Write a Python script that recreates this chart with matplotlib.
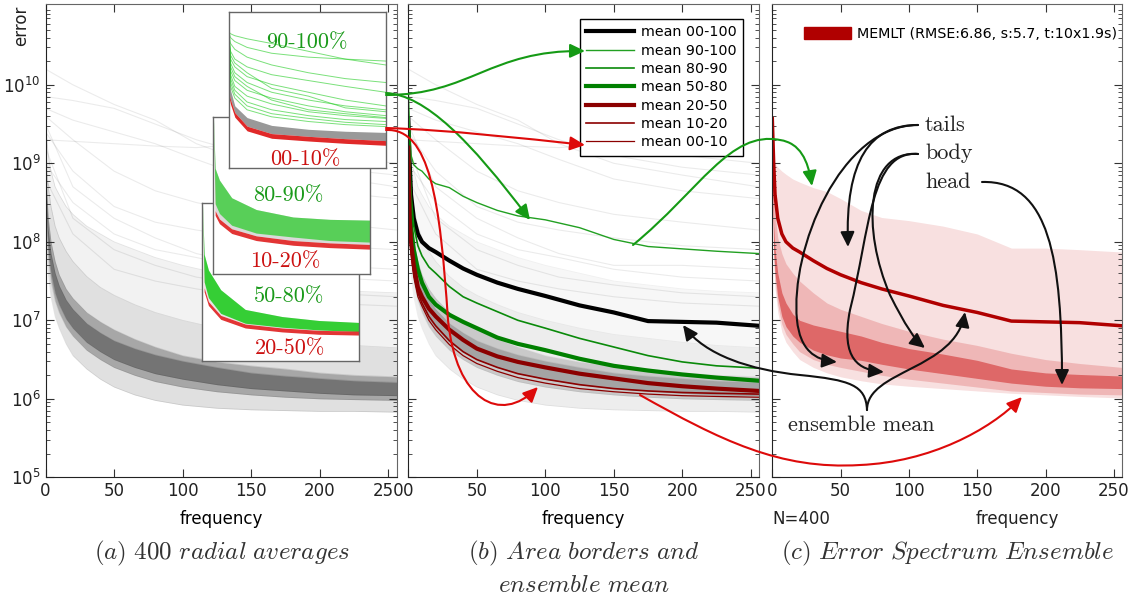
import numpy as np
import matplotlib.pyplot as plt
from matplotlib.path import Path
from matplotlib.patches import FancyArrowPatch, Patch

W, H = 1135, 603

# ---- data (log10 of error) ----
freq = [0, 1, 2, 4, 7, 10, 15, 20, 30, 40, 50, 65, 80, 100, 125, 150, 175, 200, 225, 256]

# quantiles of the 400 radial averages
q02 = [8.9, 7.9, 7.6, 7.3, 7.05, 6.9, 6.7, 6.55, 6.38, 6.25, 6.15, 6.05, 5.98, 5.92, 5.88, 5.86, 5.85, 5.84, 5.84, 5.83]
q20 = [9.05, 8.1, 7.8, 7.5, 7.25, 7.1, 6.92, 6.8, 6.62, 6.5, 6.4, 6.3, 6.22, 6.15, 6.09, 6.05, 6.02, 6.0, 5.99, 5.98]
q35 = [9.12, 8.2, 7.9, 7.6, 7.35, 7.2, 7.02, 6.9, 6.72, 6.6, 6.5, 6.4, 6.32, 6.25, 6.18, 6.13, 6.1, 6.07, 6.05, 6.04]
q65 = [9.28, 8.45, 8.15, 7.85, 7.6, 7.44, 7.26, 7.14, 6.96, 6.84, 6.74, 6.64, 6.56, 6.48, 6.4, 6.33, 6.29, 6.26, 6.23, 6.21]
q80 = [9.35, 8.6, 8.3, 8.0, 7.75, 7.58, 7.4, 7.28, 7.1, 6.98, 6.88, 6.76, 6.66, 6.55, 6.47, 6.42, 6.38, 6.33, 6.3, 6.28]
q95 = [9.5, 8.9, 8.7, 8.45, 8.2, 8.05, 7.88, 7.75, 7.56, 7.42, 7.32, 7.2, 7.1, 7.0, 6.9, 6.82, 6.77, 6.72, 6.68, 6.65]
q99 = [9.7, 9.3, 9.1, 8.9, 8.7, 8.6, 8.45, 8.35, 8.2, 8.1, 8.0, 7.9, 7.8, 7.7, 7.6, 7.5, 7.45, 7.4, 7.37, 7.35]

out_freq = [0, 20, 50, 80, 110, 150, 200, 256]
outliers = [
    [10.2, 10.0, 9.75, 9.55, 9.25, 9.0, 8.85, 8.7],
    [9.85, 9.8, 9.7, 9.5, 9.3, 9.1, 8.95, 8.85],
    [9.3, 9.28, 9.25, 9.22, 9.2, 9.25, 9.1, 9.0],
    [9.6, 9.3, 8.9, 8.65, 8.5, 8.35, 8.25, 8.15],
    [9.4, 8.9, 8.45, 8.25, 8.15, 8.05, 7.95, 7.9],
    [9.0, 8.5, 8.1, 7.9, 7.8, 7.65, 7.55, 7.5],
    [8.8, 8.1, 7.65, 7.5, 7.4, 7.3, 7.22, 7.18],
    [9.7, 9.55, 9.4, 9.25, 9.05, 8.8, 8.65, 8.55],
    [9.5, 8.7, 8.3, 8.05, 7.85, 7.7, 7.7, 7.65],
    [9.2, 8.3, 7.9, 7.7, 7.55, 7.45, 7.35, 7.3],
]

# area means
mean_all = [9.57, 9.0, 8.6, 8.3, 8.1, 8.0, 7.92, 7.87, 7.76, 7.66, 7.58, 7.48, 7.4, 7.31, 7.19, 7.1, 6.99, 6.98, 6.97, 6.93]
mean_90_100 = [9.95, 9.4, 9.1, 8.98, 8.93, 8.9, 8.8, 8.74, 8.69, 8.58, 8.5, 8.4, 8.33, 8.28, 8.18, 8.03, 7.94, 7.91, 7.88, 7.85]
mean_80_90 = [9.3, 8.9, 8.6, 8.2, 7.95, 7.82, 7.68, 7.6, 7.43, 7.3, 7.22, 7.11, 7.0, 6.9, 6.77, 6.66, 6.55, 6.47, 6.42, 6.39]
mean_50_80 = [9.4, 8.6, 8.2, 7.9, 7.65, 7.48, 7.3, 7.2, 7.07, 6.98, 6.9, 6.78, 6.7, 6.62, 6.51, 6.42, 6.36, 6.31, 6.27, 6.23]
mean_20_50 = [9.2, 8.3, 8.0, 7.7, 7.42, 7.3, 7.15, 7.05, 6.88, 6.75, 6.64, 6.54, 6.47, 6.4, 6.32, 6.26, 6.2, 6.16, 6.13, 6.1]
mean_10_20 = [9.1, 8.2, 7.9, 7.6, 7.35, 7.22, 7.05, 6.93, 6.74, 6.6, 6.5, 6.4, 6.32, 6.25, 6.18, 6.13, 6.1, 6.08, 6.07, 6.06]
mean_00_10 = [9.0, 8.1, 7.85, 7.55, 7.3, 7.18, 7.0, 6.88, 6.69, 6.55, 6.45, 6.35, 6.27, 6.2, 6.13, 6.09, 6.06, 6.04, 6.03, 6.02]

# ensemble bands (panel c)
tail_hi = [9.05, 9.02, 9.0, 8.95, 8.9, 8.86, 8.8, 8.76, 8.69, 8.64, 8.55, 8.4, 8.31, 8.27, 8.2, 8.1, 7.92, 7.92, 7.9, 7.87]
tail_lo = [8.6, 7.7, 7.4, 7.1, 6.85, 6.72, 6.6, 6.5, 6.4, 6.33, 6.28, 6.23, 6.19, 6.16, 6.13, 6.1, 6.07, 6.05, 6.03, 6.01]
body_hi = [9.05, 8.6, 8.35, 8.05, 7.85, 7.72, 7.6, 7.5, 7.35, 7.22, 7.14, 7.05, 6.96, 6.86, 6.76, 6.68, 6.58, 6.5, 6.45, 6.4]
body_lo = [8.7, 7.8, 7.5, 7.2, 6.95, 6.82, 6.7, 6.6, 6.5, 6.44, 6.4, 6.35, 6.3, 6.25, 6.2, 6.15, 6.1, 6.08, 6.06, 6.05]
head_hi = [9.0, 8.2, 7.9, 7.6, 7.35, 7.22, 7.08, 7.0, 6.94, 6.9, 6.86, 6.8, 6.72, 6.64, 6.57, 6.49, 6.38, 6.33, 6.31, 6.29]
head_lo = [8.8, 7.9, 7.6, 7.3, 7.05, 6.92, 6.8, 6.72, 6.62, 6.56, 6.52, 6.49, 6.44, 6.38, 6.32, 6.26, 6.2, 6.16, 6.14, 6.13]

# insets
in_freq = [0, 3, 10, 30, 70, 130, 190, 256]
in1_green = [
    [9.0, 8.95, 8.9, 8.82, 8.7, 8.5, 8.3, 8.15],
    [9.0, 8.85, 8.75, 8.6, 8.45, 8.35, 8.3, 8.25],
    [9.0, 8.7, 8.55, 8.35, 8.15, 7.95, 7.8, 7.7],
    [9.0, 8.5, 8.3, 8.1, 7.9, 7.75, 7.6, 7.45],
    [9.0, 8.3, 8.1, 7.85, 7.65, 7.45, 7.25, 7.1],
    [9.0, 8.2, 7.95, 7.7, 7.45, 7.25, 7.1, 7.0],
    [9.0, 8.0, 7.75, 7.5, 7.3, 7.1, 6.95, 6.85],
    [9.0, 7.9, 7.6, 7.35, 7.15, 6.95, 6.85, 6.78],
    [9.0, 7.8, 7.5, 7.2, 7.0, 6.85, 6.75, 6.7],
    [9.0, 7.7, 7.4, 7.1, 6.9, 6.78, 6.68, 6.62],
    [9.0, 7.6, 7.3, 7.0, 6.82, 6.7, 6.62, 6.57],
    [9.0, 8.1, 7.85, 7.6, 7.25, 7.0, 6.9, 6.8],
    [9.0, 8.4, 8.2, 7.95, 7.55, 7.35, 7.05, 6.95],
]
in1_gray_hi = [8.0, 7.5, 7.1, 6.8, 6.6, 6.5, 6.45, 6.42]
in1_red_hi = [7.45, 7.26, 6.93, 6.58, 6.39, 6.32, 6.26, 6.21]
in1_red_lo = [7.35, 7.14, 6.81, 6.46, 6.27, 6.2, 6.14, 6.09]

in2_green_hi = [9.6, 8.2, 7.9, 7.45, 7.15, 6.96, 6.9, 6.88]
in2_green_lo = [9.6, 7.3, 7.05, 6.75, 6.55, 6.45, 6.36, 6.32]
in2_red_hi = [9.6, 7.12, 6.91, 6.66, 6.48, 6.36, 6.3, 6.26]
in2_red_lo = [9.6, 7.0, 6.79, 6.54, 6.36, 6.24, 6.18, 6.14]

in3_green_hi = [9.6, 8.2, 7.8, 7.3, 6.8, 6.62, 6.52, 6.47]
in3_green_lo = [9.6, 7.5, 7.1, 6.7, 6.45, 6.35, 6.28, 6.24]
in3_red_hi = [9.6, 7.35, 7.0, 6.65, 6.43, 6.33, 6.27, 6.25]
in3_red_lo = [9.6, 7.25, 6.9, 6.55, 6.33, 6.23, 6.17, 6.15]

E = lambda v: 10.0 ** np.asarray(v)


def rect(x0, y0, x1, y1):
    return [x0 / W, 1 - y1 / H, (x1 - x0) / W, (y1 - y0) / H]


plt.rcParams['font.size'] = 12
fig = plt.figure(figsize=(W / 100, H / 100), dpi=100)

axa = fig.add_axes(rect(45.5, 4, 396.5, 477.3))
axb = fig.add_axes(rect(408.3, 4, 759, 477.3))
axc = fig.add_axes(rect(772.3, 4, 1122, 477.3))

for ax in (axa, axb, axc):
    ax.set_yscale('log')
    ax.set_ylim(1e5, 1.07e11)
    ax.set_yticks([1e5, 1e6, 1e7, 1e8, 1e9, 1e10])
    ax.set_xlim(0, 256)
    ax.set_xticks([0, 50, 100, 150, 200, 250])
    ax.tick_params(which='both', direction='in', top=True, right=True, colors='#333333', labelcolor='#222222')
    ax.tick_params(which='major', length=6)
    ax.tick_params(which='minor', length=3)
    for s in ax.spines.values():
        s.set_color('#666666')
    ax.spines['left'].set_color('#222222')
    ax.spines['bottom'].set_color('#222222')
axb.set_yticklabels([])
axc.set_yticklabels([])
fig.text(21 / W, 1 - 26 / H, 'error', rotation=90, ha='center', va='center', fontsize=12, color='#222222')
axa.set_xlabel('frequency', labelpad=7)
axb.set_xlabel('frequency', labelpad=7)


def bundle(ax, k):
    ax.fill_between(freq, E(q95), E(q99), color='k', alpha=0.05 * k, lw=0)
    ax.fill_between(freq, E(q02), E(q95), color='k', alpha=0.12 * k, lw=0)
    ax.fill_between(freq, E(q20), E(q80), color='k', alpha=0.25 * k, lw=0)
    ax.fill_between(freq, E(q35), E(q65), color='k', alpha=0.3 * k, lw=0)
    for q in (q02, q20, q35, q65, q80, q95, q99):
        ax.plot(freq, E(q), color='k', alpha=0.1 * k, lw=0.6)
    for o in outliers:
        ax.plot(out_freq, E(o), color='k', alpha=0.08, lw=0.8)


bundle(axa, 1.0)
bundle(axb, 0.6)

# panel b: area means
axb.plot(freq, E(mean_all), color='k', lw=3, label='mean 00-100')
axb.plot(freq, E(mean_90_100), color='#22a022', lw=1.0, label='mean 90-100')
axb.plot(freq, E(mean_80_90), color='#0a8a0a', lw=1.2, label='mean 80-90')
axb.plot(freq, E(mean_50_80), color='#008000', lw=3, label='mean 50-80')
axb.plot(freq, E(mean_20_50), color='#8b0000', lw=3, label='mean 20-50')
axb.plot(freq, E(mean_10_20), color='#8b0000', lw=1.2, label='mean 10-20')
axb.plot(freq, E(mean_00_10), color='#8b0000', lw=0.9, label='mean 00-10')
lg = axb.legend(loc='upper right', bbox_to_anchor=((743 - 408.3) / 350.7, (477.3 - 19) / 473.3),
                fontsize=10.3, handlelength=3.3, labelspacing=0.3, borderaxespad=0,
                fancybox=False, framealpha=1, edgecolor='k', borderpad=0.45, handletextpad=0.5)
lg.get_frame().set_linewidth(1.0)

# panel c: ensemble
red = '#c80000'
axc.fill_between(freq, E(tail_lo), E(tail_hi), color=red, alpha=0.12, lw=0)
axc.fill_between(freq, E(body_lo), E(body_hi), color=red, alpha=0.18, lw=0)
axc.fill_between(freq, E(head_lo), E(head_hi), color=red, alpha=0.43, lw=0)
axc.plot(freq, E(mean_all), color='#b00000', lw=2.5)
axc.legend(handles=[Patch(facecolor='#b00000', edgecolor='#b00000')],
           labels=['MEMLT (RMSE:6.86, s:5.7, t:10x1.9s)'], loc='upper left',
           bbox_to_anchor=((804 - 772.3) / 349.7, (477.3 - 27) / 473.3), frameon=False,
           fontsize=10.3, handlelength=3.3, handleheight=0.85, handletextpad=0.4, borderpad=0,
           borderaxespad=0)
fig.text(772 / W, 1 - 519 / H, 'N=400', ha='left', va='center', fontsize=12, color='#222222')
fig.text(1017 / W, 1 - 519 / H, 'frequency', ha='center', va='center', fontsize=12, color='#222222')

# insets in panel a
g_in = '#22cc22'
r_in = '#dd1111'


def inset(box, z):
    ax = fig.add_axes(rect(*box), zorder=z)
    ax.set_yscale('log')
    ax.set_ylim(10 ** 5.5, 10 ** 9.5)
    ax.set_xlim(0, 256)
    ax.set_xticks([])
    ax.set_yticks([])
    ax.minorticks_off()
    for s in ax.spines.values():
        s.set_color('#666666')
        s.set_linewidth(1.0)
    return ax


in3 = inset((202.3, 203, 359.3, 360.7), 3)
in3.fill_between(in_freq, E(in3_red_hi), E(in3_green_hi), color='k', alpha=0.1, lw=0)
in3.fill_between(in_freq, E(in3_green_lo), E(in3_green_hi), color=g_in, alpha=0.9, lw=0)
in3.fill_between(in_freq, E(in3_red_lo), E(in3_red_hi), color=r_in, alpha=0.85, lw=0)
in3.text(0.55, 0.41, '50-80%', transform=in3.transAxes, ha='center', va='center', family='cmr10', fontsize=16, color='#1a9a1a')
in3.text(0.56, 0.08, '20-50%', transform=in3.transAxes, ha='center', va='center', family='cmr10', fontsize=16, color='#cc1111')

in2 = inset((213.3, 117.3, 370.3, 274.3), 4)
in2.fill_between(in_freq, E(in2_red_hi), E(in2_green_hi), color='k', alpha=0.15, lw=0)
in2.fill_between(in_freq, E(in2_green_lo), E(in2_green_hi), color=g_in, alpha=0.7, lw=0)
in2.fill_between(in_freq, E(in2_red_lo), E(in2_red_hi), color=r_in, alpha=0.85, lw=0)
in2.text(0.48, 0.5, '80-90%', transform=in2.transAxes, ha='center', va='center', family='cmr10', fontsize=16, color='#1a9a1a')
in2.text(0.46, 0.08, '10-20%', transform=in2.transAxes, ha='center', va='center', family='cmr10', fontsize=16, color='#cc1111')

in1 = inset((228.7, 12.3, 385.7, 168.3), 5)
in1.fill_between(in_freq, E(in1_red_hi), E(in1_gray_hi), color='k', alpha=0.4, lw=0)
for g in in1_green:
    in1.plot(in_freq, E(g), color=g_in, lw=0.7, alpha=0.6)
in1.fill_between(in_freq, E(in1_red_lo), E(in1_red_hi), color=r_in, alpha=0.9, lw=0)
in1.text(0.5, 0.81, '90-100%', transform=in1.transAxes, ha='center', va='center', family='cmr10', fontsize=16, color='#1a9a1a')
in1.text(0.49, 0.06, '00-10%', transform=in1.transAxes, ha='center', va='center', family='cmr10', fontsize=16, color='#cc1111')


# annotation arrows, positions in figure pixels (y from top)
def arrow(pts, color, lw=1.5):
    verts = [(x / W, 1 - y / H) for x, y in pts]
    codes = [Path.MOVETO] + [Path.CURVE4] * (len(pts) - 1)
    p = FancyArrowPatch(path=Path(verts, codes), transform=fig.transFigure,
                        arrowstyle='-|>,head_length=0.6,head_width=0.28', mutation_scale=15,
                        color=color, lw=lw, zorder=10)
    fig.add_artist(p)


green = '#159a15'
redarr = '#dd0a0a'
arrow([(386, 95), (470, 95), (490, 50), (585, 51)], green)
arrow([(386, 93), (425, 95), (470, 140), (530, 220)], green)
arrow([(633, 245), (700, 190), (730, 130), (780, 140), (800, 143), (808, 160), (812, 186)], green)
arrow([(386, 128), (450, 130), (520, 138), (585, 145)], redarr)
arrow([(386, 130), (430, 128), (440, 200), (448, 320), (456, 400), (500, 425), (538, 387)], redarr)
arrow([(640, 395), (720, 440), (780, 470), (860, 465), (930, 462), (990, 430), (1022, 397)], redarr)

blk = '#111111'
arrow([(867, 410), (866, 385), (850, 380), (800, 375), (750, 370), (705, 355), (683, 325)], blk)
arrow([(867, 410), (867, 370), (955, 370), (965, 312)], blk)
arrow([(918, 125), (870, 125), (845, 160), (848, 247)], blk)
arrow([(918, 125), (840, 125), (790, 250), (797, 320), (800, 350), (815, 360), (837, 362)], blk)
arrow([(918, 154), (870, 150), (870, 230), (850, 310), (840, 360), (860, 370), (884, 372)], blk)
arrow([(918, 154), (865, 150), (862, 230), (890, 295), (905, 325), (915, 340), (925, 348)], blk)
arrow([(982, 182), (1050, 180), (1062, 260), (1062, 385)], blk)

for txt, y in (('tails', 125), ('body', 153), ('head', 182)):
    fig.text(925 / W, 1 - y / H, txt, ha='left', va='center', family='cmr10', fontsize=16, color='#222222')
fig.text(861 / W, 1 - 425 / H, 'ensemble mean', ha='center', va='center', family='cmr10', fontsize=16, color='#222222')

# captions
cap = dict(ha='center', va='center', fontsize=18, color='#333333', math_fontfamily='cm')
fig.text(222 / W, 1 - 553 / H, r'$\mathit{(a)\ 400\ radial\ averages}$', **cap)
fig.text(584 / W, 1 - 553 / H, r'$\mathit{(b)\ Area\ borders\ and}$', **cap)
fig.text(584 / W, 1 - 585 / H, r'$\mathit{ensemble\ mean}$', **cap)
fig.text(948 / W, 1 - 553 / H, r'$\mathit{(c)\ Error\ Spectrum\ Ensemble}$', **cap)

fig.savefig('out.png', dpi=100)
